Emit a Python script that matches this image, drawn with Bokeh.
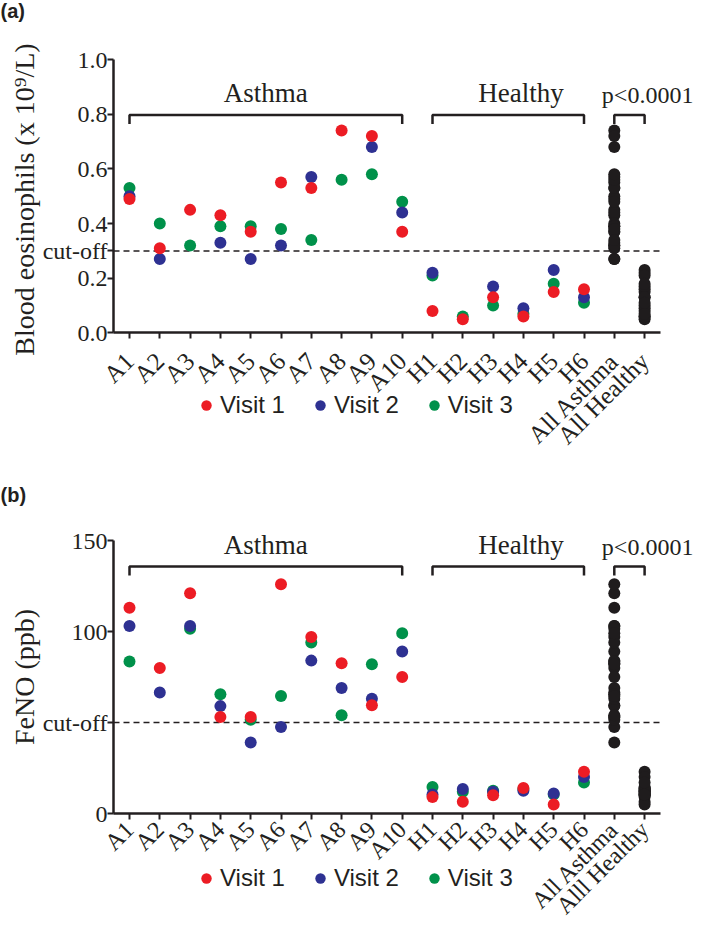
import math
from bokeh.plotting import figure
from bokeh.layouts import column
from bokeh.models import FixedTicker, Label, Legend, LegendItem
from bokeh.embed import file_html
from bokeh.resources import INLINE

NaN = float("nan")

# ---------------- data ----------------
cats_a = ["A1", "A2", "A3", "A4", "A5", "A6", "A7", "A8", "A9", "A10",
          "H1", "H2", "H3", "H4", "H5", "H6", "All Asthma", "All Healthy"]
cats_b = ["A1", "A2", "A3", "A4", "A5", "A6", "A7", "A8", "A9", "A10",
          "H1", "H2", "H3", "H4", "H5", "H6", "All Asthma", "Alll Healthy"]
n_asthma = 10
n_healthy = 6

# Blood eosinophils (x10^9/L)
eos_v1 = [0.49, 0.31, 0.45, 0.43, 0.37, 0.55, 0.53, 0.74, 0.72, 0.37,
          0.08, 0.05, 0.13, 0.06, 0.15, 0.16]
eos_v2 = [0.50, 0.27, NaN, 0.33, 0.27, 0.32, 0.57, NaN, 0.68, 0.44,
          0.22, NaN, 0.17, 0.09, 0.23, 0.13]
eos_v3 = [0.53, 0.40, 0.32, 0.39, 0.39, 0.38, 0.34, 0.56, 0.58, 0.48,
          0.21, 0.06, 0.10, 0.07, 0.18, 0.11]
eos_ticks = [0, 0.2, 0.3, 0.4, 0.6, 0.8, 1]
eos_tick_labels = ["0.0", "0.2", "cut-off", "0.4", "0.6", "0.8", "1.0"]
eos_cutoff = 0.3

# FeNO (ppb)
feno_v1 = [113, 80, 121, 53, 53, 126, 97, 82.5, 59.5, 75,
           9, 6.5, 10, 14, 5, 23]
feno_v2 = [103, 66.5, 103, 59, 39, 47.5, 84, 69, 63, 89,
           10.5, 13.5, 12, 12.5, 11, 20]
feno_v3 = [83.5, NaN, 101.5, 65.5, 51.5, 64.5, 94, 54, 82, 99,
           14.5, 12, 12.5, 13.5, 10.5, 17]
feno_ticks = [0, 50, 100, 150]
feno_tick_labels = ["0", "cut-off", "100", "150"]
feno_cutoff = 50

visit_names = ["Visit 1", "Visit 2", "Visit 3"]
visit_colors = ["#ec1c24", "#2e3192", "#00914a"]
pooled_color = "#1f1c1d"
ink = "#231f20"
SERIF = "Liberation Serif"
SANS = "Liberation Sans"

# ---------------- layout (pixels, canvas coordinates) ----------------
W = 693
AXIS_X_PX = 113          # y-axis line position
FIRST_CAT_PX = 129       # first category centre
CAT_STEP_PX = 30.3       # distance between categories
AXIS_END_PX = 660        # right end of the x-axis line
LEGEND_GLYPH = 26


def make_panel(cats, v1, v2, v3, ticks, tick_labels, cutoff, ymax, ylabel,
               letter, height, top_px, zero_px, bracket_px, bracket_h_px,
               legend_center_px, letter_px, xlabel_standoff, xlabel_size,
               p_label="p<0.0001"):
    n = len(cats)
    x_per_px = 1.0 / CAT_STEP_PX
    x_start = 0 - FIRST_CAT_PX * x_per_px
    x_end = x_start + W * x_per_px
    x_axis = x_start + AXIS_X_PX * x_per_px
    x_axis_end = x_start + AXIS_END_PX * x_per_px
    y_per_px = ymax / (zero_px - top_px)
    y_end = ymax + top_px * y_per_px
    y_start = -(height - zero_px) * y_per_px

    def ypx(py):
        return y_end - py * y_per_px

    def xpx(px):
        return x_start + px * x_per_px

    p = figure(width=W, height=height,
               x_range=(x_start, x_end), y_range=(y_start, y_end),
               output_backend="svg", toolbar_location=None,
               min_border=0)
    p.outline_line_color = None
    p.grid.visible = False
    p.background_fill_color = "white"

    # cut-off line
    p.segment(x0=[x_axis], y0=[cutoff], x1=[x_axis_end], y1=[cutoff],
              line_color=ink, line_width=1.5, line_dash="6 4")

    xs = list(range(n_asthma + n_healthy))
    vals = [v1, v2, v3]
    renderers = [None, None, None]
    for i in [2, 1, 0]:
        renderers[i] = p.scatter(xs, vals[i], size=12, color=visit_colors[i],
                                 line_color=None)

    all_a = [v for s in vals for v in s[:n_asthma] if not math.isnan(v)]
    all_h = [v for s in vals for v in s[n_asthma:] if not math.isnan(v)]
    p.scatter([n_asthma + n_healthy] * len(all_a), all_a, size=12,
              color=pooled_color, line_color=None)
    p.scatter([n_asthma + n_healthy + 1] * len(all_h), all_h, size=12,
              color=pooled_color, line_color=None)

    # brackets
    by0 = ypx(bracket_px)
    bh = bracket_h_px * y_per_px
    groups = [(0, n_asthma - 1, "Asthma"),
              (n_asthma, n_asthma + n_healthy - 1, "Healthy"),
              (n - 2, n - 1, p_label)]
    bx, by = [], []
    for g0, g1, _ in groups:
        bx.append([g0, g0, g1, g1])
        by.append([by0 - bh, by0, by0, by0 - bh])
    p.multi_line(bx, by, line_color=ink, line_width=2.5)
    text_shift = [0.0, 0.42, 0.6]
    text_size = ["27px", "27px", "24px"]
    for (g0, g1, txt), sh, ts in zip(groups, text_shift, text_size):
        p.add_layout(Label(x=(g0 + g1) / 2 + sh, y=by0, y_offset=7,
                           text=txt, text_align="center",
                           text_baseline="bottom", text_font=SERIF,
                           text_font_size=ts, text_color=ink))

    # panel letter
    p.add_layout(Label(x=xpx(0), y=ypx(letter_px), text=letter,
                       text_font=SANS, text_font_style="bold",
                       text_font_size="20px", text_baseline="middle",
                       text_color=ink))

    # axes (fixed inside the frame)
    p.yaxis.fixed_location = x_axis
    p.yaxis.bounds = (0, ymax)
    p.xaxis.fixed_location = 0
    p.xaxis.bounds = (x_axis, x_axis_end)
    for ax in (p.xaxis[0], p.yaxis[0]):
        ax.axis_line_width = 2.5
        ax.axis_line_color = ink
        ax.major_tick_line_width = 2
        ax.major_tick_line_color = ink
        ax.major_tick_out = 6
        ax.major_tick_in = 0
        ax.minor_tick_line_color = None
        ax.major_label_text_font = SERIF
        ax.major_label_text_color = ink
    p.yaxis.ticker = FixedTicker(ticks=ticks)
    p.yaxis.major_label_overrides = {t: l for t, l in zip(ticks, tick_labels)}
    p.yaxis.major_label_text_font_size = "24px"
    p.yaxis.major_label_standoff = 0
    p.yaxis.axis_label = ylabel
    p.yaxis.axis_label_text_font = SERIF
    p.yaxis.axis_label_text_font_style = "normal"
    p.yaxis.axis_label_text_font_size = "28px"
    p.yaxis.axis_label_text_color = ink
    p.yaxis.axis_label_standoff = 0

    p.xaxis.ticker = FixedTicker(ticks=list(range(n)))
    p.xaxis.major_label_overrides = {i: c for i, c in enumerate(cats)}
    p.xaxis.major_label_orientation = math.pi / 4
    p.xaxis.major_label_text_font_size = xlabel_size
    p.xaxis.major_label_standoff = xlabel_standoff

    # legend
    items = [LegendItem(label=visit_names[i], renderers=[renderers[i]])
             for i in range(3)]
    leg_h = 24
    leg = Legend(items=items,
                 location=(206 - LEGEND_GLYPH / 2,
                           height - legend_center_px - leg_h / 2),
                 orientation="horizontal", glyph_width=LEGEND_GLYPH,
                 glyph_height=LEGEND_GLYPH,
                 label_standoff=1, spacing=22, padding=0, margin=0,
                 border_line_color=None, background_fill_alpha=0,
                 label_text_font=SANS, label_text_font_size="24px",
                 label_text_color=ink, label_height=20)
    p.add_layout(leg)
    return p


pa = make_panel(cats_a, eos_v1, eos_v2, eos_v3, eos_ticks, eos_tick_labels,
                eos_cutoff, 1.0, "Blood  eosinophils (x 10\u2079/L)", "(a)",
                height=470, top_px=59, zero_px=332.4, bracket_px=114.5,
                bracket_h_px=9, legend_center_px=407, letter_px=10,
                xlabel_standoff=18, xlabel_size="25px")
pb = make_panel(cats_b, feno_v1, feno_v2, feno_v3, feno_ticks, feno_tick_labels,
                feno_cutoff, 150, "FeNO (ppb)", "(b)",
                height=454, top_px=70, zero_px=343, bracket_px=96,
                bracket_h_px=9, legend_center_px=410, letter_px=24,
                xlabel_standoff=6, xlabel_size="24px")

layout = column(pa, pb, spacing=0)
open("out.html", "w").write(file_html(layout, INLINE))
